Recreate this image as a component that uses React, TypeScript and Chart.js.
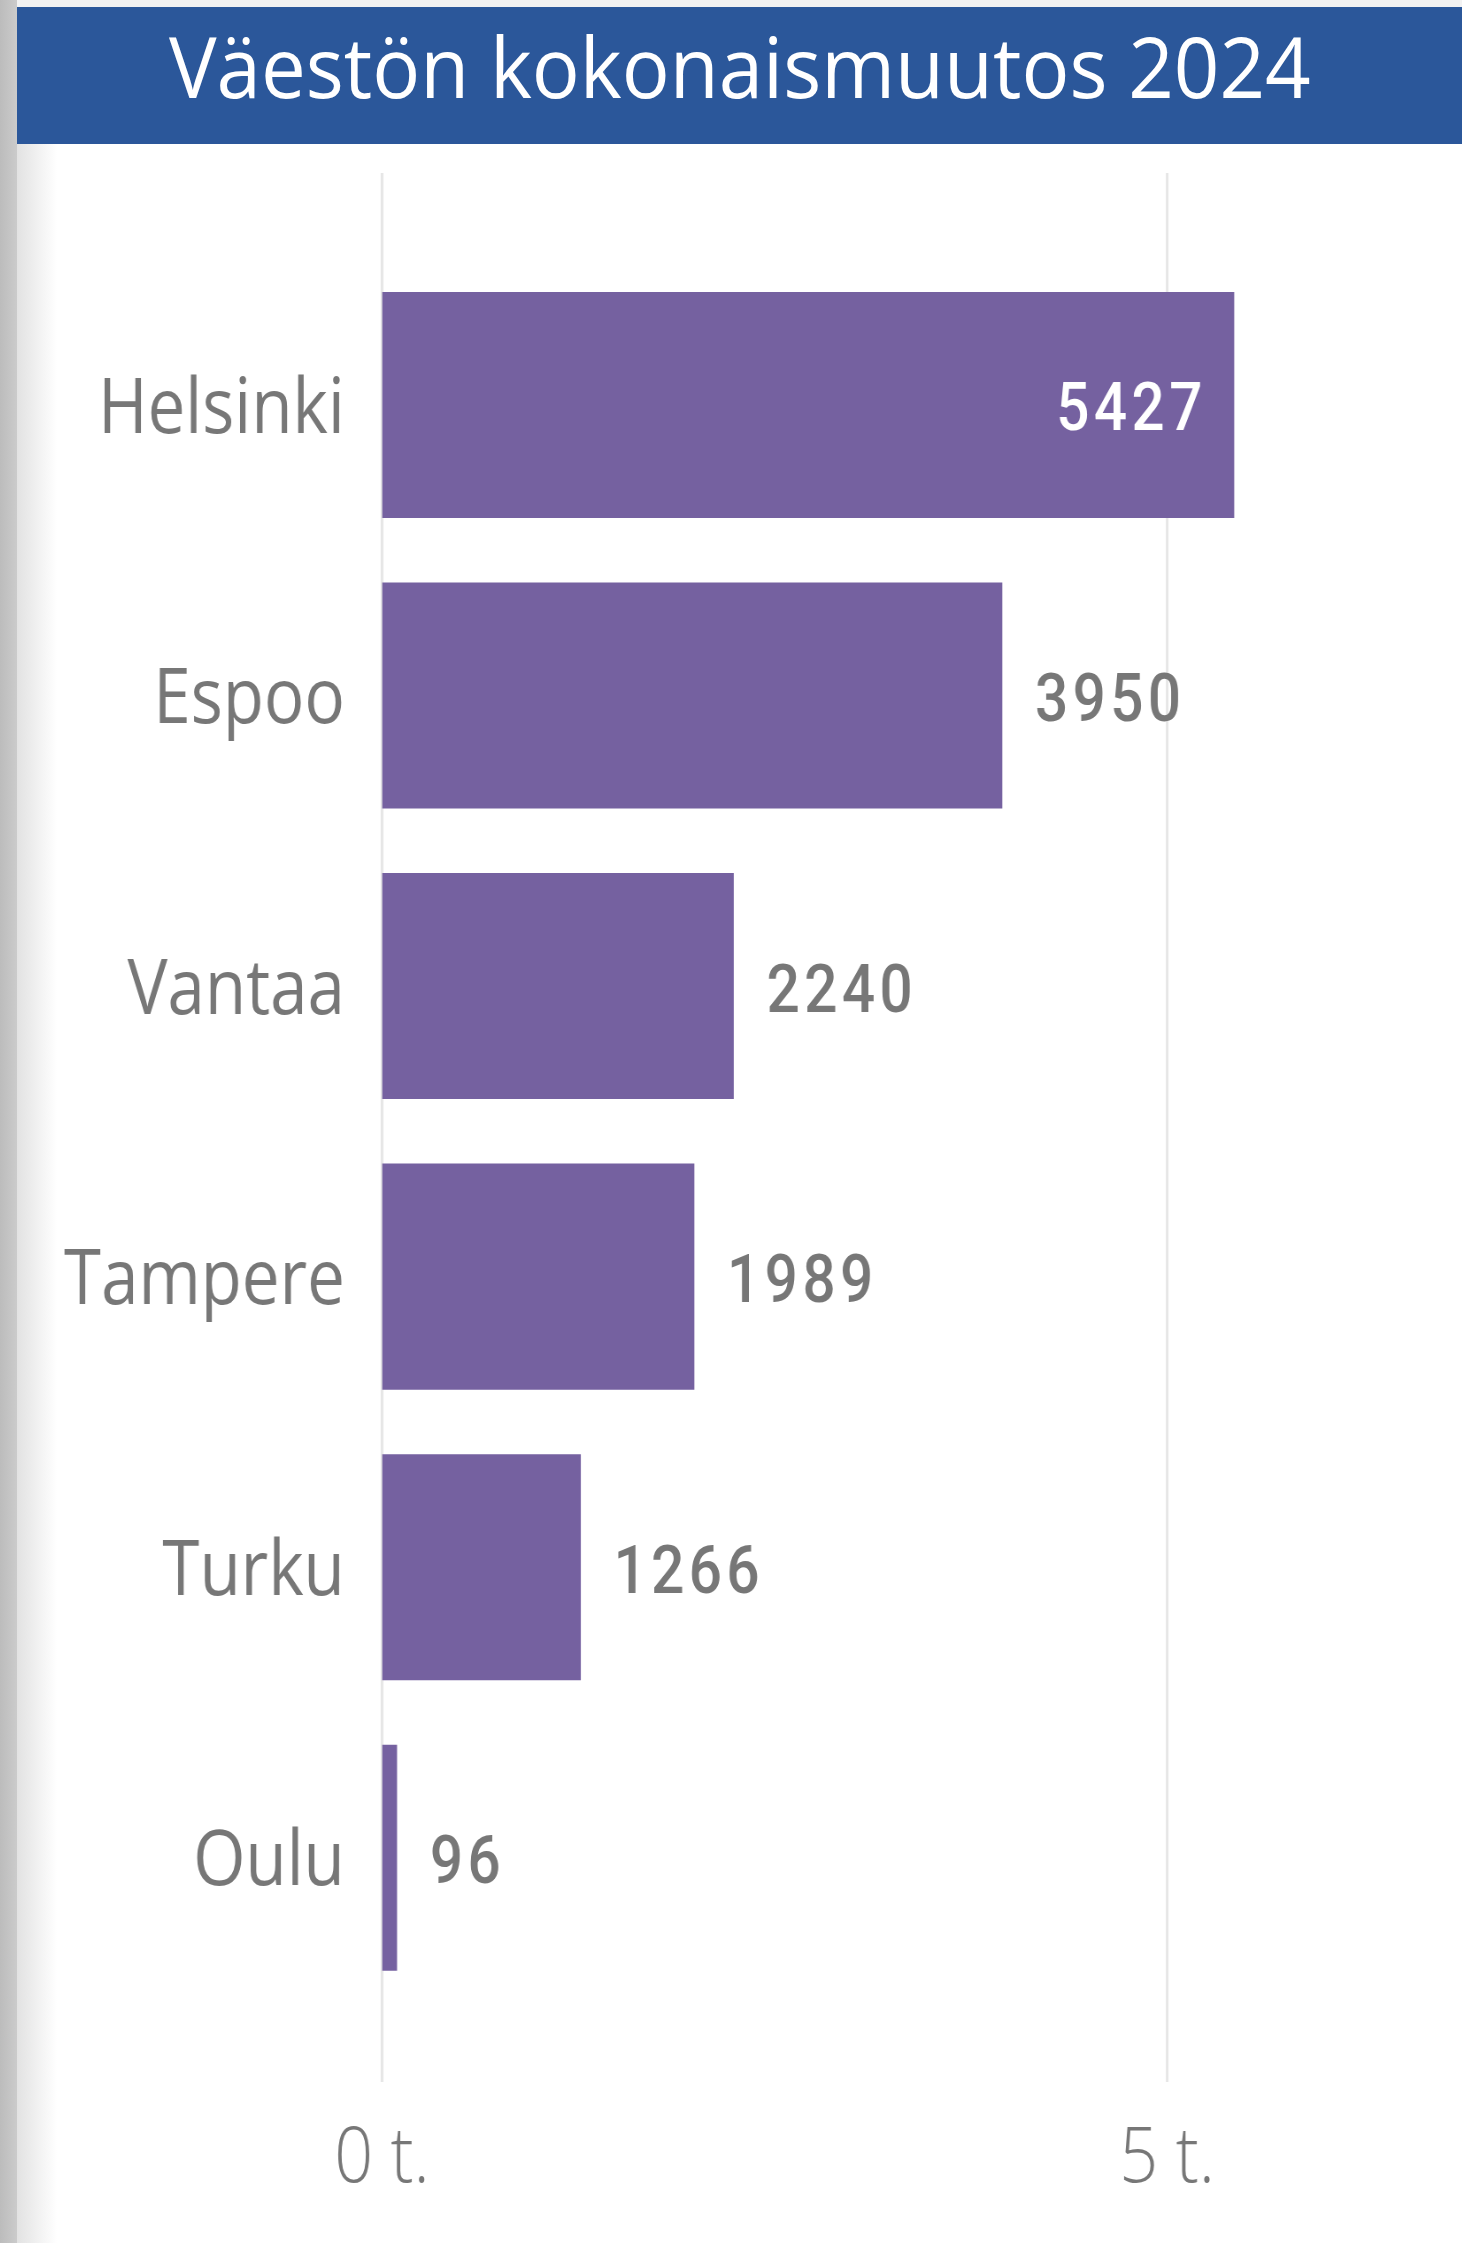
import React, { useEffect, useRef } from "react";
import { Chart, registerables } from "chart.js";

Chart.register(...registerables);

const TITLE = "Väestön kokonaismuutos 2024";
const categories = ["Helsinki", "Espoo", "Vantaa", "Tampere", "Turku", "Oulu"];
const values = [5427, 3950, 2240, 1989, 1266, 96];
const tickValues = [0, 5000];
const tickLabels = ["0 t.", "5 t."];
const X_MAX = 6540;

const S = 0.885; // horizontal text compression
const TITLE_S = 0.95;
const PANEL_W = 1445;
const PANEL_H = 2099;
const CW = Math.round(PANEL_W / S);
const AREA_LEFT = (382 - 17) / S;
const AREA_RIGHT = (1409 - 17) / S;
const AREA_TOP = 115.7;
const X_AXIS_H = 240;

const BAR = "#7561A0";
const GRAY = "#777777";
const FONT = "'Open Sans', 'Noto Sans', sans-serif";
const LABEL_FONT = "Roboto, 'Open Sans', sans-serif";
const LETTER_SP = 5;

const gridPlugin = {
  id: "extGrid",
  beforeDatasetsDraw(chart: any) {
    const { ctx, chartArea, scales } = chart;
    ctx.save();
    ctx.strokeStyle = "#e6e6e6";
    ctx.lineWidth = 3;
    tickValues.forEach((v) => {
      const x = scales.x.getPixelForValue(v);
      ctx.beginPath();
      ctx.moveTo(x, chartArea.top - 86.7);
      ctx.lineTo(x, chartArea.bottom + 79);
      ctx.stroke();
    });
    ctx.restore();
  },
};

const labelPlugin = {
  id: "valLabels",
  afterDatasetsDraw(chart: any) {
    const { ctx, chartArea } = chart;
    const meta = chart.getDatasetMeta(0);
    ctx.save();
    ctx.font = `500 66px ${LABEL_FONT}`;
    (ctx as any).letterSpacing = `${LETTER_SP}px`;
    ctx.textBaseline = "middle";
    meta.data.forEach((bar: any, i: number) => {
      const txt = String(values[i]);
      const w = ctx.measureText(txt).width;
      const outX = bar.x + 37;
      if (outX + w > chartArea.right) {
        ctx.fillStyle = "#ffffff";
        ctx.textAlign = "left";
        ctx.fillText(txt, bar.x - 36 - (w - LETTER_SP), bar.y + 9);
      } else {
        ctx.fillStyle = GRAY;
        ctx.textAlign = "left";
        ctx.fillText(txt, outX, bar.y + 9);
      }
    });
    ctx.restore();
  },
};

export default function App() {
  const ref = useRef<HTMLCanvasElement | null>(null);

  useEffect(() => {
    if (!ref.current) return;
    const chart = new Chart(ref.current, {
      type: "bar",
      data: {
        labels: categories,
        datasets: [
          {
            data: values,
            backgroundColor: BAR,
            borderWidth: 0,
            categoryPercentage: 1,
            barPercentage: 0.778,
          },
        ],
      },
      options: {
        indexAxis: "y",
        responsive: false,
        animation: false,
        devicePixelRatio: 1,
        layout: {
          padding: { top: AREA_TOP, right: CW - AREA_RIGHT, left: 0, bottom: 0 },
        },
        plugins: {
          legend: { display: false },
          tooltip: { enabled: false },
          title: { display: false },
        },
        scales: {
          x: {
            min: 0,
            max: X_MAX,
            afterBuildTicks: (scale: any) => {
              scale.ticks = tickValues.map((v) => ({ value: v }));
            },
            afterFit: (scale: any) => {
              scale.height = X_AXIS_H;
            },
            grid: { display: false, drawTicks: false, tickLength: 0 },
            border: { display: false },
            ticks: {
              padding: 111,
              color: GRAY,
              font: { family: FONT, size: 77, weight: "300" },
              maxRotation: 0,
              callback: (v: any) => tickLabels[tickValues.indexOf(Number(v))],
            },
          },
          y: {
            afterFit: (scale: any) => {
              scale.width = AREA_LEFT;
            },
            grid: { display: false, drawTicks: false, tickLength: 0 },
            border: { display: false },
            ticks: {
              padding: 42,
              labelOffset: 6,
              color: GRAY,
              font: { family: FONT, size: 76, weight: "400" },
            },
          },
        },
      },
      plugins: [gridPlugin, labelPlugin],
    });
    return () => chart.destroy();
  }, []);

  return (
    <div
      style={{
        position: "absolute",
        left: 0,
        top: 0,
        width: 1462,
        height: 2243,
        overflow: "hidden",
        background: "#ffffff",
      }}
    >
      <div style={{ position: "absolute", left: 0, top: 0, width: 1462, height: 7, background: "#f2f2f2" }} />
      <div
        style={{
          position: "absolute",
          left: 0,
          top: 0,
          width: 17,
          height: 2243,
          background: "linear-gradient(to right, #bcbcbc, #cbcbcb)",
        }}
      />
      <div
        style={{
          position: "absolute",
          left: 17,
          top: 144,
          width: 40,
          height: 2099,
          background: "linear-gradient(to right, #e2e2e2, #ffffff)",
        }}
      />
      <div
        style={{
          position: "absolute",
          left: 17,
          top: 7,
          width: 1445,
          height: 137,
          background: "#2B579A",
          overflow: "hidden",
        }}
      >
        <div
          style={{
            position: "absolute",
            left: 0,
            width: 1445,
            top: 17,
            textAlign: "center",
          }}
        >
          <span
            style={{
              display: "inline-block",
              color: "#ffffff",
              fontFamily: FONT,
              fontSize: 84,
              lineHeight: 1,
              whiteSpace: "nowrap",
              transform: `scaleX(${TITLE_S})`,
              transformOrigin: "50% 0",
            }}
          >
            {TITLE}
          </span>
        </div>
      </div>
      <div
        style={{
          position: "absolute",
          left: 17,
          top: 144,
          width: PANEL_W,
          height: PANEL_H,
          overflow: "hidden",
        }}
      >
        <canvas
          ref={ref}
          width={CW}
          height={PANEL_H}
          style={{
            display: "block",
            width: CW,
            height: PANEL_H,
            transform: `scaleX(${S})`,
            transformOrigin: "0 0",
          }}
        />
      </div>
    </div>
  );
}
